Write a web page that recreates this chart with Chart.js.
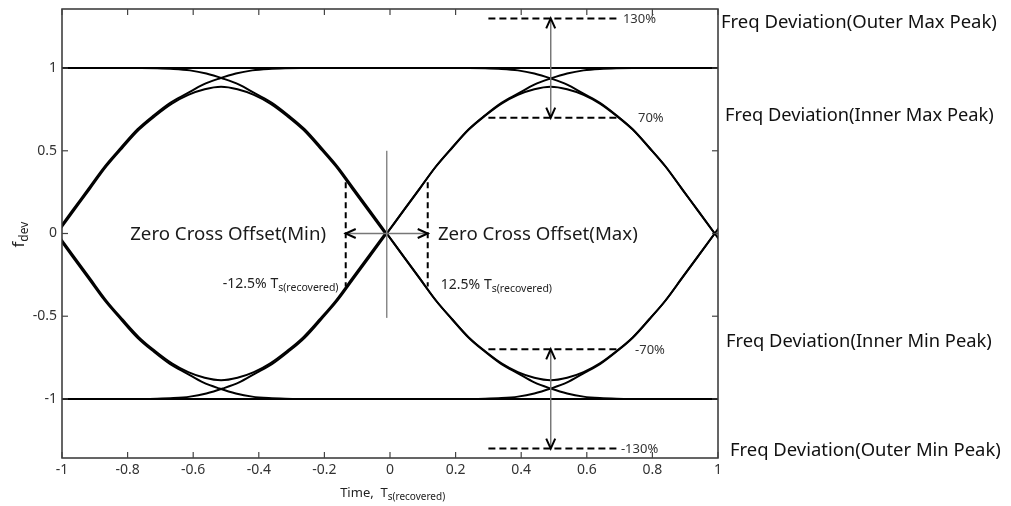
<!DOCTYPE html>
<html><head><meta charset="utf-8">
<script src="https://cdn.jsdelivr.net/npm/chart.js@4.4.1/dist/chart.umd.min.js"></script>
<style>html,body{margin:0;padding:0;background:#fff;overflow:hidden}</style>
</head><body>
<canvas id="c" width="1011" height="506"></canvas>
<script>
// ---- tick labels ----
const xTickValues = [-1,-0.8,-0.6,-0.4,-0.2,0,0.2,0.4,0.6,0.8,1];
const xTickLabels = ['-1','-0.8','-0.6','-0.4','-0.2','0','0.2','0.4','0.6','0.8','1'];
const yTickValues = [-1,-0.5,0,0.5,1];
const yTickLabels = ['-1','-0.5','0','0.5','1'];

// ---- eye diagram traces ----
const zeroCrossings = [-1.02, -0.01, 0.99];            // symbol zero-crossing times
const transitionOffset = [-0.8,-0.75,-0.7,-0.65,-0.6,-0.55,-0.5,-0.45,-0.4,-0.35,-0.3,-0.25,-0.2,-0.15,-0.1,-0.05,0,0.05,0.1,0.15,0.2,0.25,0.3,0.35,0.4,0.45,0.5,0.55,0.6,0.65,0.7,0.75,0.8];
const risingTransition = [-1,-1,-0.999,-0.995,-0.986,-0.967,-0.937,-0.9,-0.845,-0.79,-0.715,-0.63,-0.52,-0.405,-0.27,-0.135,0,0.135,0.27,0.405,0.52,0.63,0.715,0.79,0.845,0.9,0.937,0.967,0.986,0.995,0.999,1,1];
const fallingTransition = [1,1,0.999,0.995,0.986,0.967,0.937,0.9,0.845,0.79,0.715,0.63,0.52,0.405,0.27,0.135,0,-0.135,-0.27,-0.405,-0.52,-0.63,-0.715,-0.79,-0.845,-0.9,-0.937,-0.967,-0.986,-0.995,-0.999,-1,-1];
const bumpStarts = [-1.015, -0.01];
const bumpOffset = [0,0.05,0.1,0.15,0.2,0.25,0.3,0.35,0.4,0.45,0.5,0.55,0.6,0.65,0.7,0.75,0.8,0.85,0.9,0.95,1];
const upperBump = [0,0.135,0.27,0.405,0.52,0.628,0.712,0.785,0.838,0.872,0.887,0.872,0.838,0.785,0.712,0.628,0.52,0.405,0.27,0.135,0];
const lowerBump = [0,-0.135,-0.27,-0.405,-0.52,-0.628,-0.712,-0.785,-0.838,-0.872,-0.887,-0.872,-0.838,-0.785,-0.712,-0.628,-0.52,-0.405,-0.27,-0.135,0];
const levelValues = [1, -1];

// ---- annotation values ----
const peakLevels = [1.3, 0.7, -0.7, -1.3];
const peakLabels = ['130%', '70%', '-70%', '-130%'];
const peakLabelX = [0.71, 0.756, 0.747, 0.704];
const peakSpan = [0.3, 0.695];
const peakArrowX = 0.49;
const offsetLimits = [-0.135, 0.115];
const offsetLabels = ['-12.5%', '12.5%'];
const zeroMarkerX = -0.01;
const notes = ['Freq Deviation(Outer Max Peak)','Freq Deviation(Inner Max Peak)','Freq Deviation(Inner Min Peak)','Freq Deviation(Outer Min Peak)'];
const noteLevels = [1.277, 0.71, -0.656, -1.314];

const FONT = '"Noto Sans", "Open Sans", sans-serif';
const lineStyle = {borderColor:'#000', borderWidth:2, pointRadius:0, showLine:true, fill:false, cubicInterpolationMode:'monotone'};

const datasets = [];
levelValues.forEach(v => datasets.push({...lineStyle, cubicInterpolationMode:'default', data:[{x:xTickValues[0], y:v},{x:xTickValues[xTickValues.length-1], y:v}]}));
zeroCrossings.forEach(c => {
  datasets.push({...lineStyle, data: transitionOffset.map((u,i)=>({x:c+u, y:risingTransition[i]}))});
  datasets.push({...lineStyle, data: transitionOffset.map((u,i)=>({x:c+u, y:fallingTransition[i]}))});
});
bumpStarts.forEach(c => {
  datasets.push({...lineStyle, data: bumpOffset.map((u,i)=>({x:c+u, y:upperBump[i]}))});
  datasets.push({...lineStyle, data: bumpOffset.map((u,i)=>({x:c+u, y:lowerBump[i]}))});
});

function fitSize(ctx, text, width, family){
  ctx.font = '100px ' + family;
  return 100 * width / ctx.measureText(text).width;
}
function seg(ctx, x1,y1,x2,y2){ctx.beginPath();ctx.moveTo(x1,y1);ctx.lineTo(x2,y2);ctx.stroke();}
function head(ctx, x, y, ang){
  ctx.save(); ctx.translate(x,y); ctx.rotate(ang);
  ctx.strokeStyle='#000'; ctx.lineWidth=2; ctx.lineJoin='miter'; ctx.setLineDash([]);
  ctx.beginPath(); ctx.moveTo(-10,-4.5); ctx.lineTo(0,0); ctx.lineTo(-10,4.5); ctx.stroke();
  ctx.restore();
}
function subText(ctx, main, sub, x, y, size, subSize, align, subDrop){
  ctx.font = size+'px '+FONT; const w1 = ctx.measureText(main).width;
  ctx.font = subSize+'px '+FONT; const w2 = ctx.measureText(sub).width;
  const x0 = align==='right' ? x - w1 - w2 : x;
  ctx.textAlign='left'; ctx.textBaseline='alphabetic';
  ctx.font = size+'px '+FONT; ctx.fillText(main, x0, y);
  ctx.font = subSize+'px '+FONT; ctx.fillText(sub, x0+w1, y+subDrop);
}

const annot = {
  id:'annot',
  afterDatasetsDraw(chart){
    const {ctx, chartArea:a, scales} = chart;
    const X = v => scales.x.getPixelForValue(v), Y = v => scales.y.getPixelForValue(v);
    ctx.save();
    // frame
    ctx.strokeStyle='#333'; ctx.lineWidth=1.5; ctx.setLineDash([]);
    ctx.strokeRect(a.left, a.top, a.right-a.left, a.bottom-a.top);
    // inward ticks
    ctx.lineWidth=1.2; ctx.strokeStyle='#444';
    xTickValues.forEach(v=>{const p=X(v); seg(ctx,p,a.top,p,a.top+6); seg(ctx,p,a.bottom,p,a.bottom-6);});
    yTickValues.forEach(v=>{const p=Y(v); seg(ctx,a.left,p,a.left+6,p); seg(ctx,a.right,p,a.right-6,p);});

    // vertical zero marker
    ctx.strokeStyle='#888'; ctx.lineWidth=1.5;
    seg(ctx, X(zeroMarkerX), Y(0.5), X(zeroMarkerX), Y(-0.51));

    // dashed peak levels
    ctx.strokeStyle='#000'; ctx.lineWidth=2; ctx.setLineDash([7,4]);
    peakLevels.forEach(v=>seg(ctx, X(peakSpan[0]), Y(v), X(peakSpan[1]), Y(v)));
    // dashed offset limits
    ctx.setLineDash([6,4]);
    offsetLimits.forEach(v=>seg(ctx, X(v), Y(0.31), X(v), Y(-0.32)));
    ctx.setLineDash([]);

    // arrows
    ctx.strokeStyle='#777'; ctx.lineWidth=1.5;
    seg(ctx, X(peakArrowX), Y(peakLevels[0]), X(peakArrowX), Y(peakLevels[1]));
    seg(ctx, X(peakArrowX), Y(peakLevels[2]), X(peakArrowX), Y(peakLevels[3]));
    seg(ctx, X(offsetLimits[0]), Y(0), X(offsetLimits[1]), Y(0));
    head(ctx, X(peakArrowX), Y(peakLevels[0]), -Math.PI/2);
    head(ctx, X(peakArrowX), Y(peakLevels[1]), Math.PI/2);
    head(ctx, X(peakArrowX), Y(peakLevels[2]), -Math.PI/2);
    head(ctx, X(peakArrowX), Y(peakLevels[3]), Math.PI/2);
    head(ctx, X(offsetLimits[0]), Y(0), Math.PI);
    head(ctx, X(offsetLimits[1]), Y(0), 0);

    // peak labels
    ctx.fillStyle='#333'; ctx.font='13px '+FONT; ctx.textBaseline='middle'; ctx.textAlign='left';
    peakLabels.forEach((t,i)=>ctx.fillText(t, X(peakLabelX[i]), Y(peakLevels[i])+1));

    // zero cross texts
    ctx.fillStyle='#1a1a1a';
    let s = fitSize(ctx, 'Zero Cross Offset(Min)', 196, FONT);
    ctx.font = s+'px '+FONT; ctx.textBaseline='middle';
    ctx.textAlign='right'; ctx.fillText('Zero Cross Offset(Min)', X(-0.195), Y(0)+1);
    s = fitSize(ctx, 'Zero Cross Offset(Max)', 200, FONT);
    ctx.font = s+'px '+FONT; ctx.textAlign='left';
    ctx.fillText('Zero Cross Offset(Max)', X(0.146), Y(0)+1);

    ctx.fillStyle='#222';
    subText(ctx, offsetLabels[0]+' T', 's(recovered)', X(-0.157), Y(-0.3)+5, 14, 10.5, 'right', 3);
    subText(ctx, offsetLabels[1]+' T', 's(recovered)', X(0.155), Y(-0.3)+6, 14, 10.5, 'left', 3);

    // right-side notes
    ctx.fillStyle='#111'; ctx.textBaseline='middle'; ctx.textAlign='left';
    const offs = [3, 7, 8, 12], widths=[276, 269, 266, 271];
    notes.forEach((t,i)=>{
      const fs = fitSize(ctx, t, widths[i], FONT);
      ctx.font = fs+'px '+FONT; ctx.textBaseline='middle'; ctx.textAlign='left';
      ctx.fillText(t, a.right+offs[i], Y(noteLevels[i]));
    });

    // axis titles
    ctx.fillStyle='#222';
    subText(ctx, 'Time,  T', 's(recovered)', X(-0.152), a.bottom+39, 13, 10, 'left', 3);
    ctx.save();
    ctx.translate(24, Y(0)+14); ctx.rotate(-Math.PI/2);
    subText(ctx, 'f', 'dev', 0, 0, 17, 12, 'left', 4);
    ctx.restore();

    ctx.restore();
  }
};

new Chart(document.getElementById('c'), {
  type:'scatter',
  data:{datasets},
  options:{
    responsive:false, animation:false,
    layout:{padding:{top:9, right:293, left:0, bottom:0}},
    plugins:{legend:{display:false}, tooltip:{enabled:false}},
    scales:{
      x:{type:'linear', min:-1, max:1,
        grid:{display:false, drawTicks:false}, border:{display:false},
        afterBuildTicks: s => { s.ticks = xTickValues.map(v=>({value:v})); },
        afterFit: s => { s.height = 48; s.paddingLeft = 0; s.paddingRight = 0; },
        ticks:{autoSkip:false, maxRotation:0, padding:4, color:'#333', font:{family:FONT, size:14},
          callback: v => xTickLabels[xTickValues.indexOf(v)]}},
      y:{type:'linear', min:-1.357, max:1.357,
        grid:{display:false, drawTicks:false}, border:{display:false},
        afterBuildTicks: s => { s.ticks = yTickValues.map(v=>({value:v})); },
        afterFit: s => { s.width = 62; s.paddingTop = 0; s.paddingBottom = 0; },
        ticks:{autoSkip:false, padding:5, color:'#333', font:{family:FONT, size:14},
          callback: v => yTickLabels[yTickValues.indexOf(v)]}}
    }
  },
  plugins:[annot]
});
</script>
</body></html>
